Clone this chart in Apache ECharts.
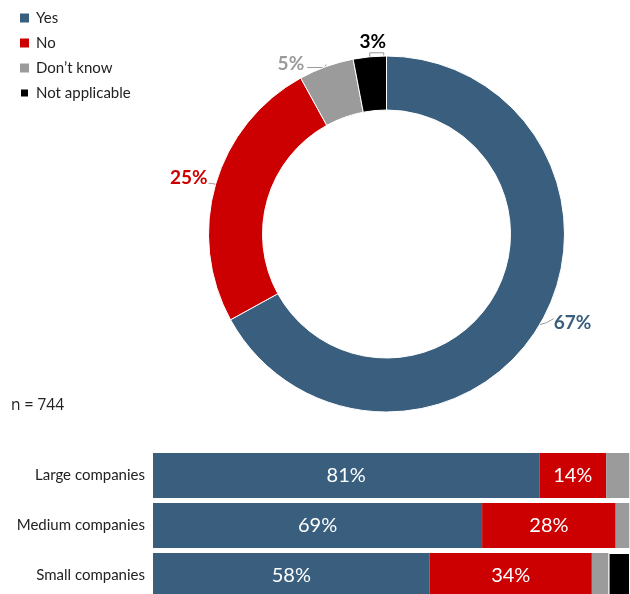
<!DOCTYPE html>
<html><head><meta charset="utf-8">
<script src="https://cdn.jsdelivr.net/npm/echarts@6/dist/echarts.min.js"></script>
<style>html,body{margin:0;padding:0;background:#fff}#c{width:630px;height:594px}</style>
</head><body><div id="c"></div>
<script>
var answers = ['Yes', 'No', "Don\u2019t know", 'Not applicable'];
var overall = [67, 25, 5, 3];
var companies = ['Large companies', 'Medium companies', 'Small companies'];
var yesVals = [81, 69, 58];
var noVals = [14, 28, 34];
var dkVals = [5, 3, 3.5];
var naVals = [0, 0, 4.5];
var sampleNote = 'n = 744';

var colors = ['#3A5F7E', '#CC0000', '#9B9B9B', '#000000'];
var chart = echarts.init(document.getElementById('c'));
var barSets = [yesVals, noVals, dkVals, naVals];

function pieLabelLayout(params) {
  var p = params.labelLinePoints;
  if (!p) return {};
  var x = p[0][0], y = p[0][1];
  var i = params.dataIndex;
  if (i === 0) {
    return { x: x + 14, y: y - 2, align: 'left', verticalAlign: 'middle',
      labelLinePoints: [[x, y], [x + 7, y - 2], [x + 14, y - 6]] };
  }
  if (i === 1) {
    return { x: x - 8, y: y - 6, align: 'right', verticalAlign: 'middle',
      labelLinePoints: [[x, y], [x - 4, y - 1], [x - 7, y - 1]] };
  }
  if (i === 2) {
    return { x: x - 22, y: y - 3, align: 'right', verticalAlign: 'middle',
      labelLinePoints: [[x, y - 2], [x - 2, y + 1], [x - 19, y + 1]] };
  }
  return { x: x + 3, y: y - 5, align: 'center', verticalAlign: 'bottom',
    labelLinePoints: [[x, y], [x, y - 4], [x + 14, y - 4], [x + 14, y - 1]] };
}

var series = [{
  type: 'pie',
  center: [386.5, 234],
  radius: [124, 178],
  startAngle: 90,
  clockwise: true,
  avoidLabelOverlap: false,
  itemStyle: { borderColor: '#fff', borderWidth: 1 },
  label: {
    show: true,
    formatter: '{c}%',
    fontFamily: 'Lato',
    fontWeight: 'bold',
    fontSize: 19
  },
  labelLine: { show: true, length: 8, length2: 8, lineStyle: { width: 1, color: '#999' } },
  labelLayout: pieLabelLayout,
  emphasis: { disabled: true },
  data: answers.map(function (n, i) {
    return { name: n, value: overall[i], itemStyle: { color: colors[i] }, label: { color: colors[i] } };
  })
}];

barSets.forEach(function (vals, i) {
  series.push({
    type: 'bar',
    name: answers[i],
    stack: 'total',
    barWidth: 45,
    itemStyle: { color: colors[i], borderColor: i === 3 ? '#fff' : 'transparent', borderWidth: i === 3 ? 1 : 0 },
    label: {
      show: i < 2,
      formatter: '{c}%',
      color: '#fff',
      fontFamily: 'Lato',
      fontWeight: 'normal',
      fontSize: 20
    },
    emphasis: { disabled: true },
    data: vals
  });
});

chart.setOption({
  animation: false,
  color: colors,
  legend: {
    orient: 'vertical',
    left: 19,
    top: 10.5,
    padding: 0,
    icon: 'rect',
    itemWidth: 9,
    itemHeight: 9,
    itemGap: 10,
    selectedMode: false,
    data: answers,
    textStyle: { fontFamily: 'Lato', fontSize: 15, color: '#222', padding: [0, 0, 0, 2] }
  },
  title: {
    text: sampleNote,
    left: 11,
    top: 398,
    padding: 0,
    textStyle: { fontFamily: 'Open Sans', fontWeight: 'normal', fontSize: 15.5, color: '#222' }
  },
  grid: { left: 153, right: 0, top: 450.5, height: 150, containLabel: false, outerBoundsMode: 'none' },
  xAxis: { type: 'value', min: 0, max: 100, show: false },
  yAxis: {
    type: 'category',
    inverse: true,
    data: companies,
    axisLine: { show: false },
    axisTick: { show: false },
    axisLabel: { margin: 8, fontFamily: 'Lato', fontSize: 15, color: '#222' }
  },
  series: series
});
</script></body></html>
